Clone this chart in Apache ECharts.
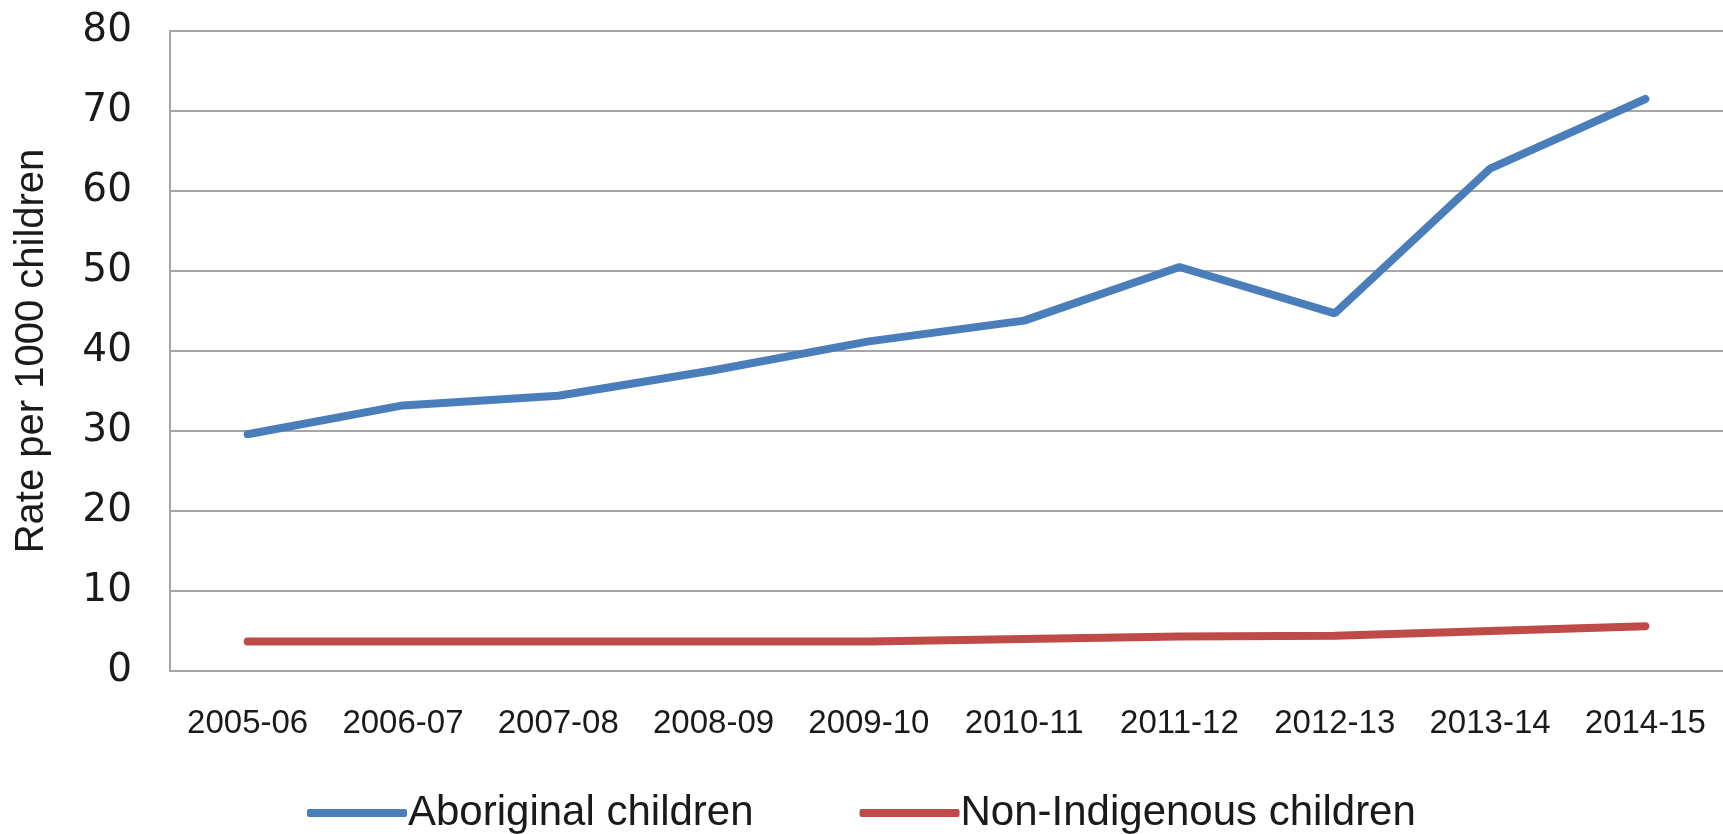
<!DOCTYPE html>
<html lang="en">
<head>
    <meta charset="utf-8">
    <title>Rate per 1000 children</title>
    <script src="https://cdn.jsdelivr.net/npm/echarts@6/dist/echarts.min.js"></script>
    <style type="text/css">
        html, body { margin: 0; padding: 0; background: #fff; }
        #main { width: 1723px; height: 834px; }
    </style>
</head>
<body>
    <div id="main"></div>
    <script type="text/javascript">
        // data
        var years = ['2005-06', '2006-07', '2007-08', '2008-09', '2009-10',
                     '2010-11', '2011-12', '2012-13', '2013-14', '2014-15'];
        var aboriginal = [29.6, 33.2, 34.4, 37.6, 41.2, 43.8, 50.5, 44.7, 62.8, 71.5];
        var nonIndigenous = [3.7, 3.7, 3.7, 3.7, 3.7, 4.0, 4.3, 4.4, 5.0, 5.6];
        var yTicks = [0, 10, 20, 30, 40, 50, 60, 70, 80];

        var myChart = echarts.init(document.getElementById('main'));
        var gridColor = '#a6a6a6';

        var option = {
            animation: false,
            grid: { left: 170, top: 31, width: 1569, height: 640 },
            legend: {
                left: 302,
                top: 787,
                itemWidth: 100,
                itemHeight: 8,
                itemGap: 106,
                icon: 'roundRect',
                textStyle: { fontFamily: 'Liberation Sans', fontSize: 42, color: '#1a1a1a', padding: [0, 0, 0, -4] },
                data: ['Aboriginal children', 'Non-Indigenous children']
            },
            xAxis: {
                type: 'category',
                data: years,
                boundaryGap: true,
                axisLine: { lineStyle: { color: gridColor, width: 2 } },
                axisTick: { show: false },
                axisLabel: { interval: 0, fontFamily: 'Liberation Sans', fontSize: 33, color: '#1a1a1a', margin: 36 }
            },
            yAxis: {
                type: 'value',
                min: yTicks[0],
                max: yTicks[yTicks.length - 1],
                interval: 10,
                name: 'Rate per 1000 children',
                nameLocation: 'middle',
                nameGap: 118,
                nameTextStyle: { fontFamily: 'Liberation Sans', fontSize: 40, color: '#1a1a1a' },
                axisLine: { show: true, lineStyle: { color: gridColor, width: 2 } },
                axisTick: { show: false },
                axisLabel: { fontFamily: 'DejaVu Sans', fontSize: 39, color: '#1a1a1a', margin: 38 },
                splitLine: { lineStyle: { color: gridColor, width: 2 } }
            },
            series: [
                {
                    name: 'Aboriginal children',
                    type: 'line',
                    data: aboriginal,
                    symbol: 'none',
                    color: '#4a7ebb',
                    lineStyle: { width: 8, color: '#4a7ebb', cap: 'round' }
                },
                {
                    name: 'Non-Indigenous children',
                    type: 'line',
                    data: nonIndigenous,
                    symbol: 'none',
                    color: '#be4b48',
                    lineStyle: { width: 8, color: '#be4b48', cap: 'round' }
                }
            ]
        };
        myChart.setOption(option);
    </script>
</body>
</html>
